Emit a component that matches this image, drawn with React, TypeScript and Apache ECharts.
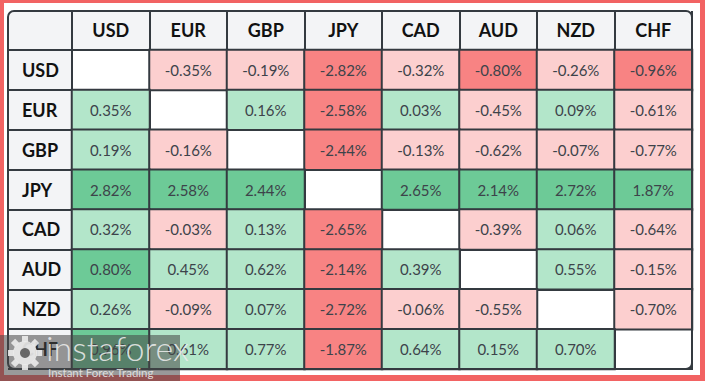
import React, { useEffect, useRef } from "react";
import * as echarts from "echarts";

const currencies = ["USD", "EUR", "GBP", "JPY", "CAD", "AUD", "NZD", "CHF"];
const usdRow = [null, -0.35, -0.19, -2.82, -0.32, -0.8, -0.26, -0.96];
const eurRow = [0.35, null, 0.16, -2.58, 0.03, -0.45, 0.09, -0.61];
const gbpRow = [0.19, -0.16, null, -2.44, -0.13, -0.62, -0.07, -0.77];
const jpyRow = [2.82, 2.58, 2.44, null, 2.65, 2.14, 2.72, 1.87];
const cadRow = [0.32, -0.03, 0.13, -2.65, null, -0.39, 0.06, -0.64];
const audRow = [0.8, 0.45, 0.62, -2.14, 0.39, null, 0.55, -0.15];
const nzdRow = [0.26, -0.09, 0.07, -2.72, -0.06, -0.55, null, -0.7];
const chfRow = [0.96, 0.61, 0.77, -1.87, 0.64, 0.15, 0.7, null];
const matrix = [usdRow, eurRow, gbpRow, jpyRow, cadRow, audRow, nzdRow, chfRow];

const LINE = "#343a40";

export default function App() {
  const ref = useRef<HTMLDivElement>(null);
  useEffect(() => {
    const chart = echarts.init(ref.current!, null, { renderer: "svg" });
    const data: any[] = [];
    matrix.forEach((row, r) =>
      row.forEach((v, c) => {
        if (v !== null) data.push([c, r, v]);
      })
    );
    const teeth: any[] = [];
    for (let k = 0; k < 8; k++) {
      teeth.push({
        type: "rect",
        x: 25,
        y: 353,
        originX: 0,
        originY: 0,
        rotation: (k * Math.PI) / 4,
        shape: { x: -3, y: -17, width: 6, height: 6 },
        style: { fill: "rgba(235,235,235,0.9)" },
        z: 201,
      });
    }
    chart.setOption({
      animation: false,
      backgroundColor: "#f26363",
      grid: {
        left: 72,
        right: 13,
        top: 50,
        bottom: 12,
        show: true,
        backgroundColor: "#ffffff",
        borderColor: LINE,
        borderWidth: 2,
      },
      xAxis: {
        type: "category",
        position: "top",
        data: currencies,
        axisLine: { show: true, lineStyle: { color: LINE, width: 2 } },
        axisTick: { show: true, length: 39, lineStyle: { color: LINE, width: 2 } },
        splitLine: { show: true, lineStyle: { color: LINE, width: 2 } },
        axisLabel: {
          margin: 20,
          verticalAlign: "middle",
          color: "#111111",
          fontFamily: "Lato",
          fontWeight: "bold",
          fontSize: 18,
        },
      },
      yAxis: {
        type: "category",
        inverse: true,
        data: currencies,
        axisLine: { show: true, lineStyle: { color: LINE, width: 2 } },
        axisTick: { show: true, length: 64, lineStyle: { color: LINE, width: 2 } },
        splitLine: { show: true, lineStyle: { color: LINE, width: 2 } },
        axisLabel: {
          margin: 50,
          align: "left",
          color: "#111111",
          fontFamily: "Lato",
          fontWeight: "bold",
          fontSize: 18,
        },
      },
      visualMap: {
        type: "piecewise",
        show: false,
        dimension: 2,
        pieces: [
          { lt: -0.795, color: "#f88383" },
          { gte: -0.795, lt: 0, color: "#fccfcf" },
          { gte: 0, lt: 0.795, color: "#b3e6ca" },
          { gte: 0.795, color: "#6dca97" },
        ],
      },
      series: [
        {
          type: "heatmap",
          data,
          itemStyle: { borderColor: LINE, borderWidth: 2 },
          label: {
            show: true,
            color: "#3d434a",
            fontFamily: "Lato",
            fontSize: 15,
            formatter: (p: any) => p.value[2].toFixed(2) + "%",
          },
          emphasis: { disabled: true },
        },
      ],
      graphic: [
        {
          type: "rect",
          shape: { x: 4, y: 3, width: 696, height: 372 },
          style: { fill: "#ffffff" },
          z: -20,
        },
        {
          type: "rect",
          shape: { x: 8, y: 11, width: 684, height: 358, r: 6 },
          style: { fill: "#f3f4f6" },
          z: -10,
        },
        {
          type: "rect",
          shape: { x: 8, y: 11, width: 684, height: 358, r: 6 },
          style: { fill: "none", stroke: LINE, lineWidth: 2 },
          z: 100,
        },
        {
          type: "rect",
          shape: { x: 0, y: 335, width: 180, height: 46 },
          style: { fill: "rgba(70,70,70,0.55)" },
          z: 200,
        },
        ...teeth,
        {
          type: "circle",
          shape: { cx: 25, cy: 353, r: 12 },
          style: { fill: "rgba(235,235,235,0.9)" },
          z: 201,
        },
        {
          type: "circle",
          shape: { cx: 25, cy: 353, r: 5 },
          style: { fill: "rgba(90,90,90,0.9)" },
          z: 202,
        },
        {
          type: "text",
          x: 46,
          y: 364,
          style: {
            text: "instaforex",
            fill: "rgba(235,235,235,0.9)",
            font: "300 34px Lato",
            textVerticalAlign: "bottom",
          },
          z: 201,
        },
        {
          type: "text",
          x: 48,
          y: 372,
          style: {
            text: "Instant Forex Trading",
            fill: "rgba(230,230,230,0.9)",
            font: "11.5px Lato",
            textVerticalAlign: "middle",
          },
          z: 201,
        },
      ],
    });
    return () => chart.dispose();
  }, []);
  return (
    <div
      ref={ref}
      style={{ position: "absolute", left: 0, top: 0, width: 705, height: 381 }}
    />
  );
}
